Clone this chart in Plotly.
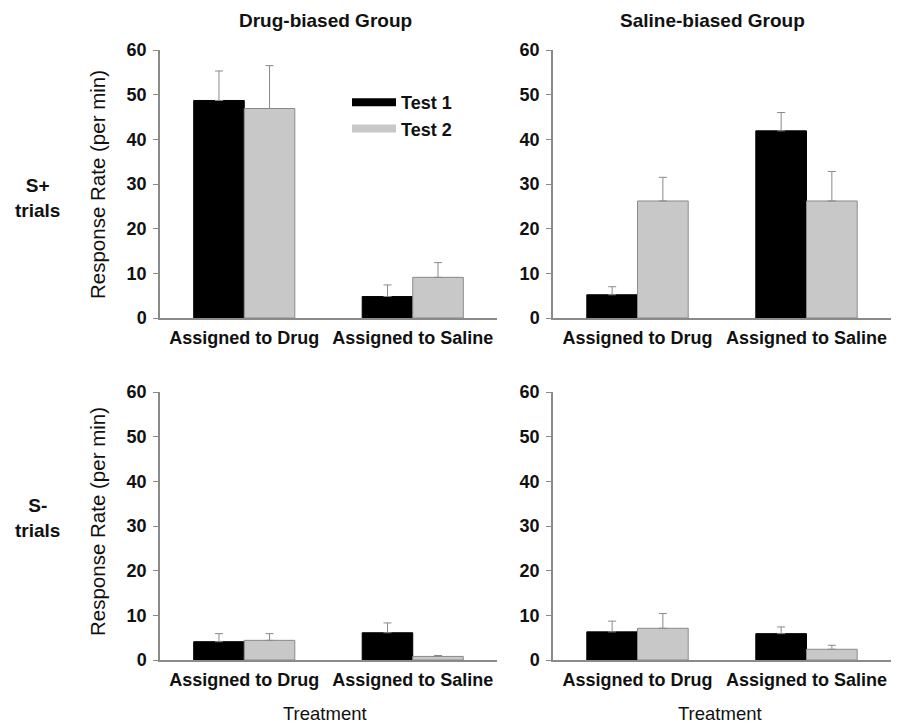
import plotly.graph_objects as go

categories = ["Assigned to Drug", "Assigned to Saline"]
series_names = ["Test 1", "Test 2"]
y_ticks = [0, 10, 20, 30, 40, 50, 60]

# Drug-biased group, S+ trials
dp_test1 = [48.7, 4.8]
dp_test1_err = [6.6, 2.6]
dp_test2 = [46.9, 9.1]
dp_test2_err = [9.6, 3.3]

# Saline-biased group, S+ trials
sp_test1 = [5.2, 41.9]
sp_test1_err = [1.8, 4.1]
sp_test2 = [26.2, 26.2]
sp_test2_err = [5.3, 6.6]

# Drug-biased group, S- trials
dm_test1 = [4.1, 6.1]
dm_test1_err = [1.8, 2.2]
dm_test2 = [4.4, 0.8]
dm_test2_err = [1.5, 0.2]

# Saline-biased group, S- trials
sm_test1 = [6.3, 5.9]
sm_test1_err = [2.4, 1.5]
sm_test2 = [7.1, 2.4]
sm_test2_err = [3.3, 0.9]

FONT = "Liberation Sans, Arial, sans-serif"
AXIS_GREY = "#8a8a8a"
BAR_COLORS = ["#000000", "#c8c8c8"]
BAR_LINES = ["#000000", "#8a8a8a"]

panels = [
    ("x", "y", [dp_test1, dp_test2], [dp_test1_err, dp_test2_err]),
    ("x2", "y2", [sp_test1, sp_test2], [sp_test1_err, sp_test2_err]),
    ("x3", "y3", [dm_test1, dm_test2], [dm_test1_err, dm_test2_err]),
    ("x4", "y4", [sm_test1, sm_test2], [sm_test1_err, sm_test2_err]),
]

fig = go.Figure()
for xa, ya, vals, errs in panels:
    for i in range(2):
        fig.add_trace(go.Bar(
            x=categories, y=vals[i], name=series_names[i],
            xaxis=xa, yaxis=ya, showlegend=False,
            offsetgroup=str(i),
            marker=dict(color=BAR_COLORS[i], line=dict(color=BAR_LINES[i], width=1)),
            error_y=dict(type="data", symmetric=False, array=errs[i],
                         arrayminus=[0] * len(errs[i]),
                         color=AXIS_GREY, thickness=1, width=4),
        ))

# legend entries (wide flat swatches)
for i in range(2):
    fig.add_trace(go.Scatter(
        x=[None], y=[None], mode="lines", name=series_names[i],
        xaxis="x", yaxis="y",
        line=dict(color=BAR_COLORS[i] if i == 0 else "#c8c8c8", width=8),
        showlegend=True,
    ))

W, H = 907, 725
OFF = 8  # page body margin
def PX(x):
    return (x - OFF) / W
def PY(y):
    return (H - (y - OFF)) / H
def px_x(a, b):
    return [PX(a), PX(b)]
def px_y(top, bottom):
    return [PY(bottom), PY(top)]

xdoms = [px_x(160, 497), px_x(553, 891), px_x(160, 497), px_x(553, 891)]
ydoms = [px_y(50, 318), px_y(50, 318), px_y(392, 660), px_y(392, 660)]

layout = dict(
    width=W, height=H,
    margin=dict(l=0, r=0, t=0, b=0, autoexpand=False),
    paper_bgcolor="white", plot_bgcolor="white",
    barmode="group", bargap=0.4, bargroupgap=0,
    font=dict(family=FONT, color="#111111"),
    showlegend=True,
    legend=dict(x=PX(351 - 4), y=PY(84), xanchor="left", yanchor="top",
                itemwidth=44,
                bgcolor="rgba(0,0,0,0)",
                font=dict(family=FONT, size=18, weight="bold", color="#111111")),
)
names = ["", "2", "3", "4"]
for k in range(4):
    layout["xaxis" + names[k]] = dict(
        domain=xdoms[k], anchor="y" + names[k], range=[-0.5, 1.5],
        showline=True, linecolor=AXIS_GREY, linewidth=1.5,
        ticks="", showgrid=False, zeroline=False, automargin=False,
        tickfont=dict(family=FONT, size=18, weight="bold", color="#111111"),
        ticklabelstandoff=3,
    )
    layout["yaxis" + names[k]] = dict(
        domain=ydoms[k], anchor="x" + names[k], range=[0, 60],
        tickvals=y_ticks, automargin=False,
        showline=True, linecolor=AXIS_GREY, linewidth=1.5,
        ticks="outside", ticklen=5, tickcolor=AXIS_GREY, tickwidth=1,
        showgrid=False, zeroline=False,
        tickfont=dict(family=FONT, size=18, weight="bold", color="#111111"),
        ticklabelstandoff=3,
    )
fig.update_layout(**layout)

def note(text, x, y, size, bold=False, angle=0):
    f = dict(family=FONT, size=size, color="#111111")
    if bold:
        f["weight"] = "bold"
    return dict(text=text, x=PX(x), y=PY(y), xref="paper", yref="paper",
                xanchor="center", yanchor="middle", textangle=angle,
                showarrow=False, font=f)

ann = [
    note("Drug-biased Group", 325, 21, 19, bold=True),
    note("Saline-biased Group", 712, 21, 19, bold=True),
    note("S+<br>trials", 37, 198, 19, bold=True),
    note("S-<br>trials", 37, 518, 19, bold=True),
    note("Response Rate (per min)", 97, 185, 20.5, angle=-90),
    note("Response Rate (per min)", 97, 522, 20.5, angle=-90),
    note("Treatment", 325, 713, 18.5),
    note("Treatment", 720, 713, 18.5),
]
fig.update_layout(annotations=ann)

fig.write_html("out.html")
